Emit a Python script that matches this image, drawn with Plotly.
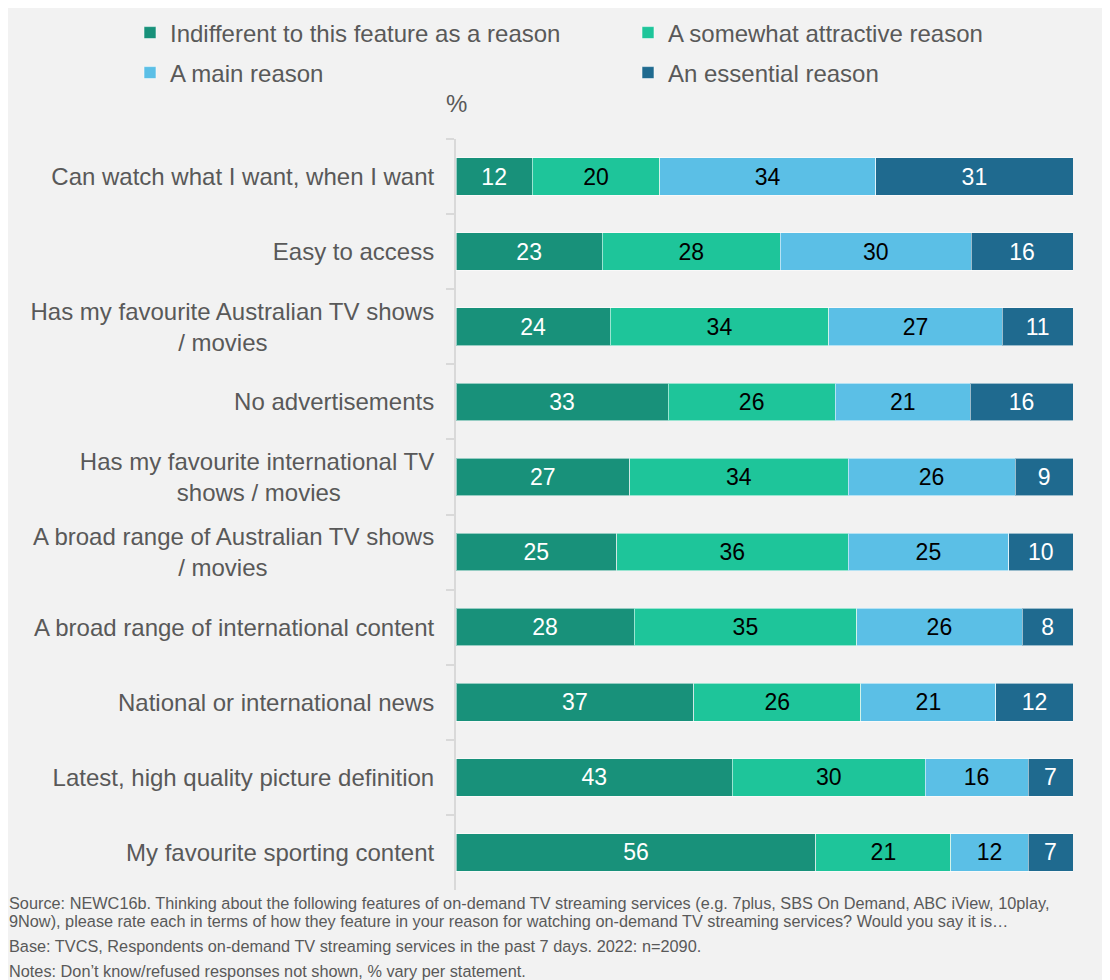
import plotly.graph_objects as go

NB = "\u00a0"

categories = [
    "Can watch what I want, when I want",
    "Easy to access",
    "Has my favourite Australian TV shows<br>/ movies" + NB * 25,
    "No advertisements",
    "Has my favourite international TV<br>shows / movies" + NB * 14,
    "A broad range of Australian TV shows<br>/ movies" + NB * 25,
    "A broad range of international content",
    "National or international news",
    "Latest, high quality picture definition",
    "My favourite sporting content",
]

indifferent = [12, 23, 24, 33, 27, 25, 28, 37, 43, 56]
somewhat = [20, 28, 34, 26, 34, 36, 35, 26, 30, 21]
main_reason = [34, 30, 27, 21, 26, 25, 26, 21, 16, 12]
essential = [31, 16, 11, 16, 9, 10, 8, 12, 7, 7]

series_names = [
    "Indifferent to this feature as a reason",
    "A somewhat attractive reason",
    "A main reason",
    "An essential reason",
]
series_values = [indifferent, somewhat, main_reason, essential]
colors = ["#18917a", "#1ec59a", "#5bbfe6", "#1f6a8f"]
text_colors = ["white", "black", "black", "white"]
legend_ids = ["legend", "legend2", "legend3", "legend4"]

FONT = "Liberation Sans, Arial, sans-serif"
GREY = "#595959"

W, H = 1102, 980
L, T, R, B = 448, 131, 37, 98
pw = W - L - R
ph = H - T - B

fig = go.Figure()
for name, vals, col, tcol, lg in zip(series_names, series_values, colors, text_colors, legend_ids):
    fig.add_trace(go.Bar(
        y=categories, x=vals, name=name, orientation="h",
        marker=dict(color=col, line=dict(color="rgba(255,255,255,0.55)", width=1)),
        text=vals, texttemplate="%{text}", textposition="inside",
        insidetextanchor="middle", constraintext="none",
        textfont=dict(family=FONT, size=23, color=tcol),
        legend=lg, width=0.5,
    ))

# legend placement (figure pixel coords)
legend_pos = [(122, 25), (620, 25), (122, 65), (620, 65)]
legend_layout = {}
for lg, (lx, ly) in zip(legend_ids, legend_pos):
    legend_layout[lg] = dict(
        orientation="h", xref="container", yref="container",
        x=lx / W, y=1 - ly / H, yanchor="middle", xanchor="left",
        font=dict(family=FONT, size=24, color=GREY),
        bgcolor="rgba(0,0,0,0)", itemclick=False, itemdoubleclick=False,
    )

fig.update_layout(
    width=W, height=H,
    barmode="stack", barnorm="percent",
    paper_bgcolor="#f2f2f2", plot_bgcolor="#f2f2f2",
    margin=dict(l=L, r=R, t=T, b=B),
    font=dict(family=FONT, size=24, color=GREY),
    xaxis=dict(visible=False, range=[0, 100], fixedrange=True),
    yaxis=dict(
        autorange="reversed", showline=True, linecolor="#d9d9d9", linewidth=2,
        ticks="outside", tickson="boundaries", ticklen=8, tickcolor="#d9d9d9",
        tickwidth=2, showgrid=False, zeroline=False,
        tickfont=dict(family=FONT, size=24, color=GREY),
        ticklabelstandoff=15,
    ),
    showlegend=True,
    **legend_layout,
)

fig.add_annotation(text="%", xref="paper", yref="paper", x=0, y=1 + (T - 95) / ph,
                   xanchor="center", yanchor="middle", showarrow=False,
                   font=dict(family=FONT, size=24, color=GREY))

footer = [
    ("Source: NEWC16b. Thinking about the following features of on-demand TV streaming services (e.g. 7plus, SBS On Demand, ABC iView, 10play,", 895),
    ("9Now), please rate each in terms of how they feature in your reason for watching on-demand TV streaming services? Would you say it is…", 913),
    ("Base: TVCS, Respondents on-demand TV streaming services in the past 7 days. 2022: n=2090.", 938),
    ("Notes: Don’t know/refused responses not shown, % vary per statement.", 963),
]
for txt, yy in footer:
    fig.add_annotation(text=txt, xref="paper", yref="paper", x=-L / pw,
                       y=(H - B - yy) / ph, xanchor="left", yanchor="middle",
                       showarrow=False, align="left", borderpad=0,
                       font=dict(family=FONT, size=16.3, color=GREY))

fig.write_html("out.html")
